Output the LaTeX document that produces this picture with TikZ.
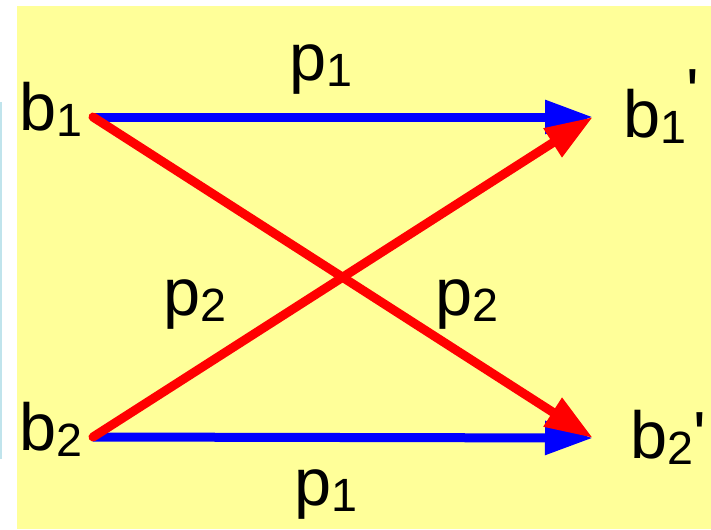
\documentclass[tikz,border=0pt]{standalone}
\usepackage{fontspec}
\setmainfont{Liberation Sans}
\usetikzlibrary{arrows.meta}
\definecolor{paper}{HTML}{FFFF99}
\definecolor{edgeblue}{HTML}{C0E4EC}
\definecolor{keep}{HTML}{0000FF}
\definecolor{swap}{HTML}{FF0000}
\newcommand{\lsub}[1]{\raisebox{-5pt}{\fontsize{35}{35}\selectfont #1}}
\tikzset{
  state/.style={anchor=base west, inner sep=0pt, font=\fontsize{50}{50}\selectfont},
  keeparrow/.style={-{Triangle[length=36pt, width=24pt]}, line width=6.75pt, color=keep},
  swaparrow/.style={-{Triangle[length=36pt, width=24pt]}, line width=6.75pt, color=swap, line cap=round},
}

\begin{document}
\begin{tikzpicture}[x=0.75pt, y=-0.75pt]

  \useasboundingbox (0,0) rectangle (711,529);
  \fill[paper] (17,6) rectangle (711,529);
  \fill[edgeblue] (0,102) rectangle (2,459);

  % end points of the arrows
  \coordinate (s1) at (93,117);
  \coordinate (s2) at (93,437);
  \coordinate (t1) at (593,117);
  \coordinate (t2) at (593,438);

  % states
  \node[state] (b1) at (19,130) {b\lsub{1}};
  \node[state] (b2) at (19,450) {b\lsub{2}};
  \node[state] (b1p) at (623,137) {b\lsub{1}\raisebox{16pt}{\textquotesingle}};
  \node[state] (b2p) at (630,458) {b\lsub{2}\textquotesingle};

  % probabilities
  \node[state] (p1top) at (289,80) {p\lsub{1}};
  \node[state] (p1bot) at (294,505) {p\lsub{1}};
  \node[state] (p2left) at (163,315) {p\lsub{2}};
  \node[state] (p2right) at (435,315) {p\lsub{2}};

  \draw[keeparrow] (s1) -- (t1);
  \draw[keeparrow] (s2) -- (t2);
  \draw[swaparrow] (s1) -- (t2);
  \draw[swaparrow] (s2) -- (t1);

\end{tikzpicture}
\end{document}
